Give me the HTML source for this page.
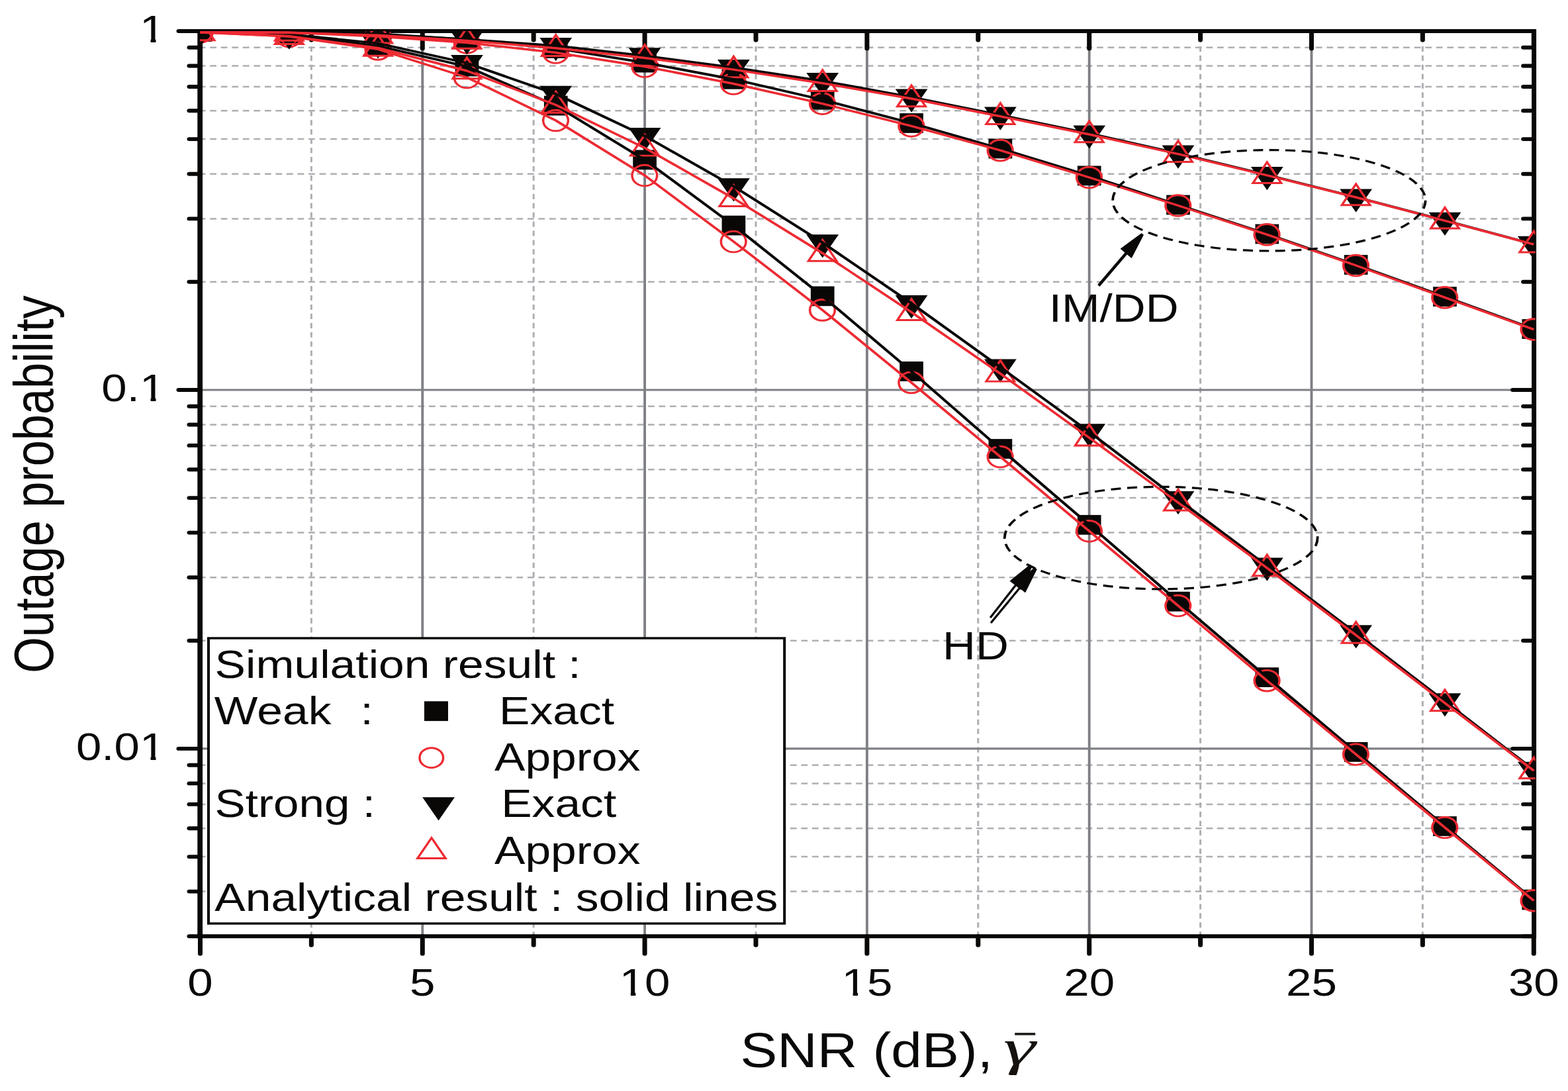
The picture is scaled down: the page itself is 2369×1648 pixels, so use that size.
<!DOCTYPE html>
<html lang="en"><head><meta charset="utf-8"><title>Outage probability vs SNR</title>
<style>html,body{margin:0;padding:0;background:#fff}body{width:2369px;height:1648px;overflow:hidden}svg{display:block}text{font-family:"Liberation Sans",Arial,sans-serif;fill:#0a0807}</style>
</head><body>
<svg width="2369" height="1648" viewBox="0 0 2369 1648">
<rect width="2369" height="1648" fill="#fff"/>
<defs><clipPath id="plot"><rect x="253.78" y="47.0" width="1695.46" height="1370.3"/></clipPath></defs>
<g transform="scale(1.190 1)">
<g fill="none" stroke="#adafb3" stroke-width="2.5">
<line x1="253.78" y1="425.8" x2="1947.56" y2="425.8" stroke-dasharray="8.2 5.7" stroke-dashoffset="1.10"/>
<line x1="253.78" y1="330.4" x2="1947.56" y2="330.4" stroke-dasharray="8.2 5.7" stroke-dashoffset="1.10"/>
<line x1="253.78" y1="262.7" x2="1947.56" y2="262.7" stroke-dasharray="8.2 5.7" stroke-dashoffset="1.10"/>
<line x1="253.78" y1="210.1" x2="1947.56" y2="210.1" stroke-dasharray="8.2 5.7" stroke-dashoffset="1.10"/>
<line x1="253.78" y1="167.2" x2="1947.56" y2="167.2" stroke-dasharray="8.2 5.7" stroke-dashoffset="1.10"/>
<line x1="253.78" y1="131.0" x2="1947.56" y2="131.0" stroke-dasharray="8.2 5.7" stroke-dashoffset="1.10"/>
<line x1="253.78" y1="99.5" x2="1947.56" y2="99.5" stroke-dasharray="8.2 5.7" stroke-dashoffset="1.10"/>
<line x1="253.78" y1="71.8" x2="1947.56" y2="71.8" stroke-dasharray="8.2 5.7" stroke-dashoffset="1.10"/>
<line x1="253.78" y1="967.8" x2="1947.56" y2="967.8" stroke-dasharray="8.2 5.7" stroke-dashoffset="1.10"/>
<line x1="253.78" y1="872.3" x2="1947.56" y2="872.3" stroke-dasharray="8.2 5.7" stroke-dashoffset="1.10"/>
<line x1="253.78" y1="804.6" x2="1947.56" y2="804.6" stroke-dasharray="8.2 5.7" stroke-dashoffset="1.10"/>
<line x1="253.78" y1="752.1" x2="1947.56" y2="752.1" stroke-dasharray="8.2 5.7" stroke-dashoffset="1.10"/>
<line x1="253.78" y1="709.2" x2="1947.56" y2="709.2" stroke-dasharray="8.2 5.7" stroke-dashoffset="1.10"/>
<line x1="253.78" y1="672.9" x2="1947.56" y2="672.9" stroke-dasharray="8.2 5.7" stroke-dashoffset="1.10"/>
<line x1="253.78" y1="641.5" x2="1947.56" y2="641.5" stroke-dasharray="8.2 5.7" stroke-dashoffset="1.10"/>
<line x1="253.78" y1="613.8" x2="1947.56" y2="613.8" stroke-dasharray="8.2 5.7" stroke-dashoffset="1.10"/>
<line x1="253.78" y1="1346.6" x2="1947.56" y2="1346.6" stroke-dasharray="8.2 5.7" stroke-dashoffset="1.10"/>
<line x1="253.78" y1="1294.1" x2="1947.56" y2="1294.1" stroke-dasharray="8.2 5.7" stroke-dashoffset="1.10"/>
<line x1="253.78" y1="1251.2" x2="1947.56" y2="1251.2" stroke-dasharray="8.2 5.7" stroke-dashoffset="1.10"/>
<line x1="253.78" y1="1214.9" x2="1947.56" y2="1214.9" stroke-dasharray="8.2 5.7" stroke-dashoffset="1.10"/>
<line x1="253.78" y1="1183.4" x2="1947.56" y2="1183.4" stroke-dasharray="8.2 5.7" stroke-dashoffset="1.10"/>
<line x1="253.78" y1="1155.7" x2="1947.56" y2="1155.7" stroke-dasharray="8.2 5.7" stroke-dashoffset="1.10"/>
<line x1="395.29" y1="47.0" x2="395.29" y2="1414.3" stroke-dasharray="8.1 5.83" stroke-dashoffset="4.96"/>
<line x1="677.48" y1="47.0" x2="677.48" y2="1414.3" stroke-dasharray="8.1 5.83" stroke-dashoffset="4.96"/>
<line x1="959.66" y1="47.0" x2="959.66" y2="1414.3" stroke-dasharray="8.1 5.83" stroke-dashoffset="4.96"/>
<line x1="1241.85" y1="47.0" x2="1241.85" y2="1414.3" stroke-dasharray="8.1 5.83" stroke-dashoffset="4.96"/>
<line x1="1524.03" y1="47.0" x2="1524.03" y2="1414.3" stroke-dasharray="8.1 5.83" stroke-dashoffset="4.96"/>
<line x1="1806.22" y1="47.0" x2="1806.22" y2="1414.3" stroke-dasharray="8.1 5.83" stroke-dashoffset="4.96"/>
</g>
<g fill="none" stroke="#7e8085" stroke-width="3.1">
<line x1="253.78" y1="589.0" x2="1947.56" y2="589.0"/>
<line x1="253.78" y1="1130.9" x2="1947.56" y2="1130.9"/>
<line x1="536.39" y1="47.0" x2="536.39" y2="1414.3" stroke-width="3.25"/>
<line x1="818.57" y1="47.0" x2="818.57" y2="1414.3" stroke-width="3.25"/>
<line x1="1100.76" y1="47.0" x2="1100.76" y2="1414.3" stroke-width="3.25"/>
<line x1="1382.94" y1="47.0" x2="1382.94" y2="1414.3" stroke-width="3.25"/>
<line x1="1665.13" y1="47.0" x2="1665.13" y2="1414.3" stroke-width="3.25"/>
</g>
<g fill="none" stroke="#0a0807" stroke-width="5.9" stroke-linecap="round">
<line x1="253.78" y1="47.0" x2="226.89" y2="47.0"/>
<line x1="1945.46" y1="47.0" x2="1920.67" y2="47.0"/>
<line x1="253.78" y1="589.0" x2="226.89" y2="589.0"/>
<line x1="1945.46" y1="589.0" x2="1920.67" y2="589.0"/>
<line x1="253.78" y1="1130.9" x2="226.89" y2="1130.9"/>
<line x1="1945.46" y1="1130.9" x2="1920.67" y2="1130.9"/>
<line x1="253.78" y1="425.8" x2="240.34" y2="425.8"/>
<line x1="1945.46" y1="425.8" x2="1934.12" y2="425.8"/>
<line x1="253.78" y1="330.4" x2="240.34" y2="330.4"/>
<line x1="1945.46" y1="330.4" x2="1934.12" y2="330.4"/>
<line x1="253.78" y1="262.7" x2="240.34" y2="262.7"/>
<line x1="1945.46" y1="262.7" x2="1934.12" y2="262.7"/>
<line x1="253.78" y1="210.1" x2="240.34" y2="210.1"/>
<line x1="1945.46" y1="210.1" x2="1934.12" y2="210.1"/>
<line x1="253.78" y1="167.2" x2="240.34" y2="167.2"/>
<line x1="1945.46" y1="167.2" x2="1934.12" y2="167.2"/>
<line x1="253.78" y1="131.0" x2="240.34" y2="131.0"/>
<line x1="1945.46" y1="131.0" x2="1934.12" y2="131.0"/>
<line x1="253.78" y1="99.5" x2="240.34" y2="99.5"/>
<line x1="1945.46" y1="99.5" x2="1934.12" y2="99.5"/>
<line x1="253.78" y1="71.8" x2="240.34" y2="71.8"/>
<line x1="1945.46" y1="71.8" x2="1934.12" y2="71.8"/>
<line x1="253.78" y1="967.8" x2="240.34" y2="967.8"/>
<line x1="1945.46" y1="967.8" x2="1934.12" y2="967.8"/>
<line x1="253.78" y1="872.3" x2="240.34" y2="872.3"/>
<line x1="1945.46" y1="872.3" x2="1934.12" y2="872.3"/>
<line x1="253.78" y1="804.6" x2="240.34" y2="804.6"/>
<line x1="1945.46" y1="804.6" x2="1934.12" y2="804.6"/>
<line x1="253.78" y1="752.1" x2="240.34" y2="752.1"/>
<line x1="1945.46" y1="752.1" x2="1934.12" y2="752.1"/>
<line x1="253.78" y1="709.2" x2="240.34" y2="709.2"/>
<line x1="1945.46" y1="709.2" x2="1934.12" y2="709.2"/>
<line x1="253.78" y1="672.9" x2="240.34" y2="672.9"/>
<line x1="1945.46" y1="672.9" x2="1934.12" y2="672.9"/>
<line x1="253.78" y1="641.5" x2="240.34" y2="641.5"/>
<line x1="1945.46" y1="641.5" x2="1934.12" y2="641.5"/>
<line x1="253.78" y1="613.8" x2="240.34" y2="613.8"/>
<line x1="1945.46" y1="613.8" x2="1934.12" y2="613.8"/>
<line x1="253.78" y1="1346.6" x2="240.34" y2="1346.6"/>
<line x1="1945.46" y1="1346.6" x2="1934.12" y2="1346.6"/>
<line x1="253.78" y1="1294.1" x2="240.34" y2="1294.1"/>
<line x1="1945.46" y1="1294.1" x2="1934.12" y2="1294.1"/>
<line x1="253.78" y1="1251.2" x2="240.34" y2="1251.2"/>
<line x1="1945.46" y1="1251.2" x2="1934.12" y2="1251.2"/>
<line x1="253.78" y1="1214.9" x2="240.34" y2="1214.9"/>
<line x1="1945.46" y1="1214.9" x2="1934.12" y2="1214.9"/>
<line x1="253.78" y1="1183.4" x2="240.34" y2="1183.4"/>
<line x1="1945.46" y1="1183.4" x2="1934.12" y2="1183.4"/>
<line x1="253.78" y1="1155.7" x2="240.34" y2="1155.7"/>
<line x1="1945.46" y1="1155.7" x2="1934.12" y2="1155.7"/>
<line x1="253.78" y1="1414.3" x2="240.34" y2="1414.3"/>
<line x1="1945.46" y1="1414.3" x2="1934.12" y2="1414.3"/>
<line x1="254.20" y1="1414.3" x2="254.20" y2="1440.8"/>
<line x1="254.20" y1="48.5" x2="254.20" y2="73.5"/>
<line x1="536.39" y1="1414.3" x2="536.39" y2="1440.8"/>
<line x1="536.39" y1="48.5" x2="536.39" y2="73.5"/>
<line x1="818.57" y1="1414.3" x2="818.57" y2="1440.8"/>
<line x1="818.57" y1="48.5" x2="818.57" y2="73.5"/>
<line x1="1100.76" y1="1414.3" x2="1100.76" y2="1440.8"/>
<line x1="1100.76" y1="48.5" x2="1100.76" y2="73.5"/>
<line x1="1382.94" y1="1414.3" x2="1382.94" y2="1440.8"/>
<line x1="1382.94" y1="48.5" x2="1382.94" y2="73.5"/>
<line x1="1665.13" y1="1414.3" x2="1665.13" y2="1440.8"/>
<line x1="1665.13" y1="48.5" x2="1665.13" y2="73.5"/>
<line x1="1947.31" y1="1414.3" x2="1947.31" y2="1440.8"/>
<line x1="1947.31" y1="48.5" x2="1947.31" y2="73.5"/>
<line x1="395.29" y1="1414.3" x2="395.29" y2="1427.8"/>
<line x1="395.29" y1="48.5" x2="395.29" y2="60.5"/>
<line x1="677.48" y1="1414.3" x2="677.48" y2="1427.8"/>
<line x1="677.48" y1="48.5" x2="677.48" y2="60.5"/>
<line x1="959.66" y1="1414.3" x2="959.66" y2="1427.8"/>
<line x1="959.66" y1="48.5" x2="959.66" y2="60.5"/>
<line x1="1241.85" y1="1414.3" x2="1241.85" y2="1427.8"/>
<line x1="1241.85" y1="48.5" x2="1241.85" y2="60.5"/>
<line x1="1524.03" y1="1414.3" x2="1524.03" y2="1427.8"/>
<line x1="1524.03" y1="48.5" x2="1524.03" y2="60.5"/>
<line x1="1806.22" y1="1414.3" x2="1806.22" y2="1427.8"/>
<line x1="1806.22" y1="48.5" x2="1806.22" y2="60.5"/>
</g>
<g fill="none" stroke="#0a0807" stroke-linecap="butt">
<line x1="250.50" y1="47.0" x2="1950.25" y2="47.0" stroke-width="6.0"/>
<line x1="250.50" y1="1414.3" x2="1950.25" y2="1414.3" stroke-width="6.0"/>
<line x1="253.95" y1="44.0" x2="253.95" y2="1417.3" stroke-width="6.55"/>
<line x1="1947.56" y1="44.0" x2="1947.56" y2="1417.3" stroke-width="5.88"/>
</g>
<g clip-path="url(#plot)">
<g fill="#0a0807">
<rect x="239.20" y="32.6" width="30.0" height="29.8"/>
<rect x="352.08" y="33.6" width="30.0" height="29.8"/>
<rect x="464.95" y="37.1" width="30.0" height="29.8"/>
<rect x="577.82" y="44.6" width="30.0" height="29.8"/>
<rect x="690.70" y="58.1" width="30.0" height="29.8"/>
<rect x="803.57" y="79.7" width="30.0" height="29.8"/>
<rect x="916.45" y="104.9" width="30.0" height="29.8"/>
<rect x="1029.32" y="135.9" width="30.0" height="29.8"/>
<rect x="1142.19" y="171.1" width="30.0" height="29.8"/>
<rect x="1255.07" y="209.6" width="30.0" height="29.8"/>
<rect x="1367.94" y="250.5" width="30.0" height="29.8"/>
<rect x="1480.82" y="294.6" width="30.0" height="29.8"/>
<rect x="1593.69" y="338.6" width="30.0" height="29.8"/>
<rect x="1706.56" y="385.1" width="30.0" height="29.8"/>
<rect x="1819.44" y="433.2" width="30.0" height="29.8"/>
<rect x="1932.31" y="482.1" width="30.0" height="29.8"/>
<rect x="239.20" y="33.1" width="30.0" height="29.8"/>
<rect x="352.08" y="38.1" width="30.0" height="29.8"/>
<rect x="464.95" y="54.6" width="30.0" height="29.8"/>
<rect x="577.82" y="85.6" width="30.0" height="29.8"/>
<rect x="690.70" y="144.7" width="30.0" height="29.8"/>
<rect x="803.57" y="226.5" width="30.0" height="29.8"/>
<rect x="916.45" y="325.7" width="30.0" height="29.8"/>
<rect x="1029.32" y="432.5" width="30.0" height="29.8"/>
<rect x="1142.19" y="546.1" width="30.0" height="29.8"/>
<rect x="1255.07" y="663.1" width="30.0" height="29.8"/>
<rect x="1367.94" y="777.9" width="30.0" height="29.8"/>
<rect x="1480.82" y="893.8" width="30.0" height="29.8"/>
<rect x="1593.69" y="1008.2" width="30.0" height="29.8"/>
<rect x="1706.56" y="1121.0" width="30.0" height="29.8"/>
<rect x="1819.44" y="1233.1" width="30.0" height="29.8"/>
<rect x="1932.31" y="1344.6" width="30.0" height="29.8"/>
</g>
<g fill="none" stroke="#ed2a32" stroke-width="2.95">
<circle cx="254.00" cy="48.0" r="15.85"/>
<circle cx="366.88" cy="49.0" r="15.85"/>
<circle cx="479.75" cy="55.0" r="15.85"/>
<circle cx="592.62" cy="64.5" r="15.85"/>
<circle cx="705.50" cy="79.5" r="15.85"/>
<circle cx="818.37" cy="100.5" r="15.85"/>
<circle cx="931.25" cy="126.5" r="15.85"/>
<circle cx="1044.12" cy="156.6" r="15.85"/>
<circle cx="1156.99" cy="190.3" r="15.85"/>
<circle cx="1269.87" cy="227.2" r="15.85"/>
<circle cx="1382.74" cy="268.0" r="15.85"/>
<circle cx="1495.62" cy="310.5" r="15.85"/>
<circle cx="1608.49" cy="354.4" r="15.85"/>
<circle cx="1721.36" cy="401.0" r="15.85"/>
<circle cx="1834.24" cy="449.4" r="15.85"/>
<circle cx="1947.11" cy="497.6" r="15.85"/>
<circle cx="254.00" cy="48.5" r="15.85"/>
<circle cx="366.88" cy="55.0" r="15.85"/>
<circle cx="479.75" cy="74.4" r="15.85"/>
<circle cx="592.62" cy="117.0" r="15.85"/>
<circle cx="705.50" cy="182.0" r="15.85"/>
<circle cx="818.37" cy="265.0" r="15.85"/>
<circle cx="931.25" cy="365.0" r="15.85"/>
<circle cx="1044.12" cy="468.4" r="15.85"/>
<circle cx="1156.99" cy="577.9" r="15.85"/>
<circle cx="1269.87" cy="690.0" r="15.85"/>
<circle cx="1382.74" cy="802.3" r="15.85"/>
<circle cx="1495.62" cy="915.0" r="15.85"/>
<circle cx="1608.49" cy="1028.2" r="15.85"/>
<circle cx="1721.36" cy="1139.5" r="15.85"/>
<circle cx="1834.24" cy="1250.0" r="15.85"/>
<circle cx="1947.11" cy="1360.4" r="15.85"/>
</g>
<path fill="#0a0807" d="M233.70 35.3L274.70 35.3L254.20 70.5ZM346.58 35.8L387.58 35.8L367.08 71.0ZM459.45 38.8L500.45 38.8L479.95 74.0ZM572.32 47.3L613.32 47.3L592.82 82.5ZM685.20 57.0L726.20 57.0L705.70 92.2ZM798.07 72.2L839.07 72.2L818.57 107.4ZM910.95 90.0L951.95 90.0L931.45 125.2ZM1023.82 110.1L1064.82 110.1L1044.32 145.3ZM1136.69 134.6L1177.69 134.6L1157.19 169.8ZM1249.57 161.5L1290.57 161.5L1270.07 196.7ZM1362.44 189.4L1403.44 189.4L1382.94 224.6ZM1475.32 219.6L1516.32 219.6L1495.82 254.8ZM1588.19 252.0L1629.19 252.0L1608.69 287.2ZM1701.06 285.6L1742.06 285.6L1721.56 320.8ZM1813.94 320.8L1854.94 320.8L1834.44 356.0ZM1926.81 356.8L1967.81 356.8L1947.31 392.0ZM233.70 35.8L274.70 35.8L254.20 71.0ZM346.58 39.6L387.58 39.6L367.08 74.8ZM459.45 53.3L500.45 53.3L479.95 88.5ZM572.32 83.1L613.32 83.1L592.82 118.3ZM685.20 129.8L726.20 129.8L705.70 165.0ZM798.07 193.1L839.07 193.1L818.57 228.3ZM910.95 269.3L951.95 269.3L931.45 304.5ZM1023.82 354.3L1064.82 354.3L1044.32 389.5ZM1136.69 446.0L1177.69 446.0L1157.19 481.2ZM1249.57 542.5L1290.57 542.5L1270.07 577.7ZM1362.44 640.2L1403.44 640.2L1382.94 675.4ZM1475.32 742.0L1516.32 742.0L1495.82 777.2ZM1588.19 842.6L1629.19 842.6L1608.69 877.8ZM1701.06 944.3L1742.06 944.3L1721.56 979.5ZM1813.94 1047.3L1854.94 1047.3L1834.44 1082.5ZM1926.81 1150.8L1967.81 1150.8L1947.31 1186.0Z"/>
<path fill="none" stroke="#ed2a32" stroke-width="2.95" stroke-linejoin="miter" d="M236.30 60.7L272.10 60.7L254.20 29.1ZM349.18 61.2L384.98 61.2L367.08 29.6ZM462.05 65.0L497.85 65.0L479.95 33.4ZM574.92 73.2L610.72 73.2L592.82 41.6ZM687.80 84.4L723.60 84.4L705.70 52.8ZM800.67 99.2L836.47 99.2L818.57 67.6ZM913.55 116.8L949.35 116.8L931.45 85.2ZM1026.42 137.4L1062.22 137.4L1044.32 105.8ZM1139.29 160.7L1175.09 160.7L1157.19 129.1ZM1252.17 187.4L1287.97 187.4L1270.07 155.8ZM1365.04 214.7L1400.84 214.7L1382.94 183.1ZM1477.92 244.4L1513.72 244.4L1495.82 212.8ZM1590.79 276.5L1626.59 276.5L1608.69 244.9ZM1703.66 309.7L1739.46 309.7L1721.56 278.1ZM1816.54 345.0L1852.34 345.0L1834.44 313.4ZM1929.41 380.9L1965.21 380.9L1947.31 349.3ZM236.30 60.8L272.10 60.8L254.20 29.2ZM349.18 66.5L384.98 66.5L367.08 34.9ZM462.05 84.2L497.85 84.2L479.95 52.6ZM574.92 118.7L610.72 118.7L592.82 87.1ZM687.80 170.2L723.60 170.2L705.70 138.6ZM800.67 235.1L836.47 235.1L818.57 203.5ZM913.55 311.4L949.35 311.4L931.45 279.8ZM1026.42 394.2L1062.22 394.2L1044.32 362.6ZM1139.29 483.4L1175.09 483.4L1157.19 451.8ZM1252.17 576.1L1287.97 576.1L1270.07 544.5ZM1365.04 672.9L1400.84 672.9L1382.94 641.3ZM1477.92 770.9L1513.72 770.9L1495.82 739.3ZM1590.79 869.7L1626.59 869.7L1608.69 838.1ZM1703.66 971.2L1739.46 971.2L1721.56 939.6ZM1816.54 1073.7L1852.34 1073.7L1834.44 1042.1ZM1929.41 1175.8L1965.21 1175.8L1947.31 1144.2Z"/>
<g fill="none" stroke-linejoin="round">
<polyline points="254.20,47.5 367.08,48.5 479.95,52.0 592.82,59.5 705.70,73.0 818.57,94.6 931.45,119.8 1044.32,150.8 1157.19,186.0 1270.07,224.5 1382.94,265.4 1495.82,309.5 1608.69,353.5 1721.56,400.0 1834.44,448.1 1947.31,497.0" stroke="#0a0807" stroke-width="3.75"/>
<polyline points="254.20,47.5 367.08,48.0 479.95,51.0 592.82,59.5 705.70,69.2 818.57,84.4 931.45,102.2 1044.32,122.3 1157.19,146.8 1270.07,173.7 1382.94,201.6 1495.82,231.8 1608.69,264.2 1721.56,297.8 1834.44,333.0 1947.31,369.0" stroke="#0a0807" stroke-width="3.75"/>
<polyline points="254.20,48.0 367.08,53.0 479.95,69.5 592.82,100.5 705.70,159.6 818.57,241.4 931.45,340.6 1044.32,447.4 1157.19,561.0 1270.07,678.0 1382.94,792.8 1495.82,908.7 1608.69,1023.1 1721.56,1135.9 1834.44,1248.0 1947.31,1359.5" stroke="#0a0807" stroke-width="3.75"/>
<polyline points="254.20,48.0 367.08,51.8 479.95,65.5 592.82,95.3 705.70,142.0 818.57,205.3 931.45,281.5 1044.32,366.5 1157.19,458.2 1270.07,554.7 1382.94,652.4 1495.82,754.2 1608.69,854.8 1721.56,956.5 1834.44,1059.5 1947.31,1163.0" stroke="#0a0807" stroke-width="3.75"/>
<polyline points="254.20,48.0 367.08,49.0 479.95,55.0 592.82,64.5 705.70,79.5 818.57,100.5 931.45,126.5 1044.32,156.6 1157.19,190.3 1270.07,227.2 1382.94,268.0 1495.82,310.5 1608.69,354.4 1721.56,401.0 1834.44,449.4 1947.31,497.6" stroke="#ed2a32" stroke-width="3.45"/>
<polyline points="254.20,49.0 367.08,49.5 479.95,53.3 592.82,61.5 705.70,72.7 818.57,87.5 931.45,105.1 1044.32,125.7 1157.19,149.0 1270.07,175.7 1382.94,203.0 1495.82,232.7 1608.69,264.8 1721.56,298.0 1834.44,333.3 1947.31,369.2" stroke="#ed2a32" stroke-width="3.45"/>
<polyline points="254.20,48.5 367.08,55.0 479.95,74.4 592.82,117.0 705.70,182.0 818.57,265.0 931.45,365.0 1044.32,468.4 1157.19,577.9 1270.07,690.0 1382.94,802.3 1495.82,915.0 1608.69,1028.2 1721.56,1139.5 1834.44,1250.0 1947.31,1360.4" stroke="#ed2a32" stroke-width="3.45"/>
<polyline points="254.20,49.1 367.08,54.8 479.95,72.5 592.82,107.0 705.70,158.5 818.57,223.4 931.45,299.7 1044.32,382.5 1157.19,471.7 1270.07,564.4 1382.94,661.2 1495.82,759.2 1608.69,858.0 1721.56,959.5 1834.44,1062.0 1947.31,1164.1" stroke="#ed2a32" stroke-width="3.45"/>
</g>
</g>
<g fill="none" stroke="#0a0807" stroke-width="3.2" stroke-dasharray="12.6 8" stroke-linecap="butt">
<ellipse cx="1611.26" cy="302.8" rx="198.57" ry="76.2" stroke-dashoffset="0.0"/>
<ellipse cx="1474.12" cy="812.6" rx="198.66" ry="77.3" stroke-dashoffset="0.0"/>
</g>
<path d="M1396.20 432.9 L1432.92 381.7 L1430.10 378.8 L1393.38 430.1 Z" fill="#0a0807"/><path d="M1451.34 355.0 L1436.46 389.2 L1423.29 375.8 L1449.29 352.9 Z" fill="#0a0807" stroke="#0a0807" stroke-width="1.2" stroke-linejoin="round"/>
<path d="M1258.40 934.0 L1292.21 882.6 L1290.03 880.6 L1256.22 932.0 Z" fill="#0a0807"/><path d="M1310.04 855.4 L1296.39 890.3 L1282.75 877.6 L1307.93 853.4 Z" fill="#0a0807" stroke="#0a0807" stroke-width="1.2" stroke-linejoin="round"/>
<path d="M1259.05 942.0 L1297.49 886.6 L1295.35 884.5 L1256.91 940.0 Z" fill="#0a0807"/><path d="M1315.90 859.9 L1301.49 894.4 L1288.14 881.3 L1313.82 857.9 Z" fill="#0a0807" stroke="#0a0807" stroke-width="1.2" stroke-linejoin="round"/>
<text transform="translate(1331.76 486.4) scale(0.9681 1.000)" font-size="60.0" text-anchor="start" xml:space="preserve">IM/DD</text>
<text transform="translate(1196.64 995.5) scale(0.9681 1.000)" font-size="60.0" text-anchor="start" xml:space="preserve">HD</text>
<rect x="264.71" y="964.0" width="731.26" height="431.0" fill="#fff" stroke="#0a0807" stroke-width="3.4"/>
<text transform="translate(272.77 1024.0) scale(0.9748 1.000)" font-size="60.0" text-anchor="start" xml:space="preserve">Simulation result :</text>
<text transform="translate(272.10 1093.8) scale(0.9748 1.000)" font-size="60.0" text-anchor="start" xml:space="preserve">Weak</text>
<text transform="translate(457.56 1093.8) scale(0.9748 1.000)" font-size="60.0" text-anchor="start" xml:space="preserve">:</text>
<text transform="translate(633.61 1093.8) scale(0.9748 1.000)" font-size="60.0" text-anchor="start" xml:space="preserve">Exact</text>
<text transform="translate(627.73 1163.8) scale(0.9748 1.000)" font-size="60.0" text-anchor="start" xml:space="preserve">Approx</text>
<text transform="translate(272.77 1234.2) scale(0.9699 1.000)" font-size="60.0" text-anchor="start" xml:space="preserve">Strong :</text>
<text transform="translate(636.30 1234.2) scale(0.9748 1.000)" font-size="60.0" text-anchor="start" xml:space="preserve">Exact</text>
<text transform="translate(627.73 1304.8) scale(0.9748 1.000)" font-size="60.0" text-anchor="start" xml:space="preserve">Approx</text>
<text transform="translate(272.52 1375.8) scale(0.9748 1.000)" font-size="60.0" text-anchor="start" xml:space="preserve">Analytical result : solid lines</text>
<rect x="538.66" y="1059.3" width="30.25" height="29.8" fill="#0a0807"/>
<circle cx="547.73" cy="1144.7" r="15.0" fill="none" stroke="#ed2a32" stroke-width="2.9"/>
<path d="M536.30 1204.2L577.31 1204.2L556.81 1239.4Z" fill="#0a0807"/>
<path d="M547.90 1265.6L565.71 1296.5L530.08 1296.5Z" fill="none" stroke="#ed2a32" stroke-width="2.9"/>
<text transform="translate(254.20 1504.0) scale(1.0042 1.000)" font-size="57.8" text-anchor="middle" xml:space="preserve">0</text>
<text transform="translate(536.39 1504.0) scale(1.0042 1.000)" font-size="57.8" text-anchor="middle" xml:space="preserve">5</text>
<text transform="translate(818.57 1504.0) scale(1.0042 1.000)" font-size="57.8" text-anchor="middle" xml:space="preserve">10</text>
<text transform="translate(1100.76 1504.0) scale(1.0042 1.000)" font-size="57.8" text-anchor="middle" xml:space="preserve">15</text>
<text transform="translate(1382.94 1504.0) scale(1.0042 1.000)" font-size="57.8" text-anchor="middle" xml:space="preserve">20</text>
<text transform="translate(1665.13 1504.0) scale(1.0042 1.000)" font-size="57.8" text-anchor="middle" xml:space="preserve">25</text>
<text transform="translate(1947.31 1504.0) scale(1.0042 1.000)" font-size="57.8" text-anchor="middle" xml:space="preserve">30</text>
<text transform="translate(209.50 64.4) scale(0.9966 1.000)" font-size="58.2" text-anchor="end" xml:space="preserve">1</text>
<text transform="translate(209.50 606.4) scale(0.9966 1.000)" font-size="58.2" text-anchor="end" xml:space="preserve">0.1</text>
<text transform="translate(209.50 1148.3) scale(0.9966 1.000)" font-size="58.2" text-anchor="end" xml:space="preserve">0.01</text>
<rect x="180.17" y="58.7" width="11.09" height="7.4" fill="#fff"/>
<rect x="197.90" y="58.7" width="10.76" height="7.4" fill="#fff"/>
<rect x="180.17" y="600.7" width="11.09" height="7.4" fill="#fff"/>
<rect x="197.90" y="600.7" width="10.76" height="7.4" fill="#fff"/>
<rect x="180.17" y="1142.6" width="11.09" height="7.4" fill="#fff"/>
<rect x="197.90" y="1142.6" width="10.76" height="7.4" fill="#fff"/>
<rect x="789.62" y="1498.3" width="11.09" height="7.4" fill="#fff"/>
<rect x="807.02" y="1498.3" width="10.76" height="7.4" fill="#fff"/>
<rect x="1071.81" y="1498.3" width="11.09" height="7.4" fill="#fff"/>
<rect x="1089.20" y="1498.3" width="10.76" height="7.4" fill="#fff"/>
<text transform="translate(939.92 1612.2) scale(0.9571 1.000)" font-size="73.5" text-anchor="start" xml:space="preserve">SNR (dB),</text>
<text transform="translate(1273.95 1608.0) scale(1.3613 1.000)" font-size="76.0" style="font-family:'Liberation Serif','DejaVu Serif',serif;font-style:italic;fill:#14110f">γ</text>
<line x1="1288.40" y1="1561.9" x2="1314.45" y2="1561.9" stroke="#1c1917" stroke-width="3.6"/>
<text transform="translate(67.48 731.6) scale(0.8403 1) rotate(-90) scale(1.000 1.185)" font-size="70.3" text-anchor="middle">Outage probability</text>
</g>
</svg>
</body></html>
